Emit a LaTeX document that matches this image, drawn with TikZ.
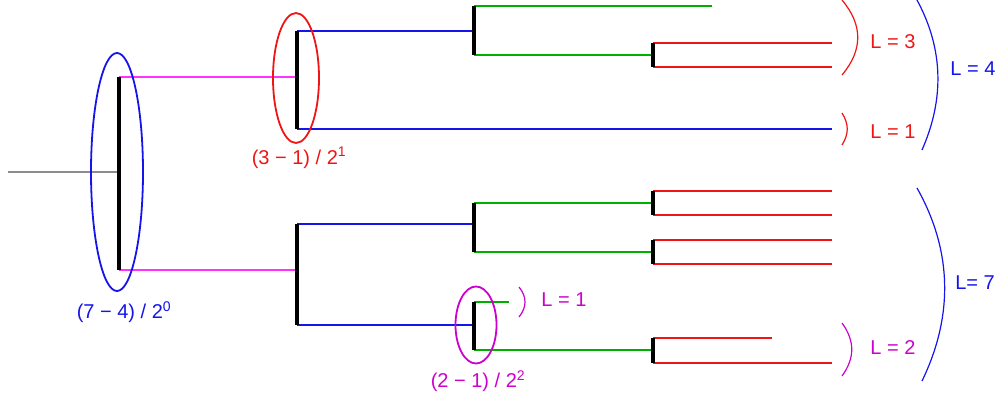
\documentclass[tikz,border=0pt]{standalone}
\usepackage{fontspec}
\setmainfont{Liberation Sans}
\usetikzlibrary{shapes.geometric}
\definecolor{treered}{RGB}{240,20,20}
\definecolor{treeblue}{RGB}{20,20,235}
\definecolor{treegreen}{RGB}{0,175,0}
\definecolor{treepink}{RGB}{255,50,255}
\definecolor{treemag}{RGB}{205,0,205}
\definecolor{treegray}{RGB}{140,140,140}
\tikzset{
  bar/.style={line width=4pt, draw=black},
  branch/.style={line width=1.3pt},
  group/.style={draw, ellipse, line width=1.8pt, inner sep=0pt},
  brace/.style={line width=1.2pt},
  lab/.style={font=\fontsize{20}{24}\selectfont, inner sep=0pt}
}

\begin{document}
\begin{tikzpicture}[x=1pt, y=-1pt]
  \useasboundingbox (0,0) rectangle (1002,401);

  % junctions
  \coordinate (in) at (8,172);
  \coordinate (r) at (119,172);
  \coordinate (r1) at (119,77);   \coordinate (r2) at (119,270);
  \coordinate (a) at (297,77);    \coordinate (d) at (297,270);
  \coordinate (a1) at (297,31);   \coordinate (a2) at (297,129);
  \coordinate (b) at (474,31);
  \coordinate (b1) at (474,6);    \coordinate (b2) at (474,55);
  \coordinate (c) at (653,55);
  \coordinate (c1) at (653,43);   \coordinate (c2) at (653,67);
  \coordinate (d1) at (297,224);  \coordinate (d2) at (297,325);
  \coordinate (e) at (474,224);   \coordinate (h) at (474,325);
  \coordinate (e1) at (474,203);  \coordinate (e2) at (474,252);
  \coordinate (f) at (653,203);   \coordinate (g) at (653,252);
  \coordinate (f1) at (653,191);  \coordinate (f2) at (653,215);
  \coordinate (g1) at (653,240);  \coordinate (g2) at (653,264);
  \coordinate (h1) at (474,302);  \coordinate (h2) at (474,350);
  \coordinate (i) at (653,350);
  \coordinate (i1) at (653,338);  \coordinate (i2) at (653,363);

  % leaves
  \coordinate (lb1) at (712,6);
  \coordinate (lc1) at (832,43);  \coordinate (lc2) at (832,67);
  \coordinate (la2) at (832,129);
  \coordinate (lf1) at (832,191); \coordinate (lf2) at (832,215);
  \coordinate (lg1) at (832,240); \coordinate (lg2) at (832,264);
  \coordinate (lh1) at (509,302);
  \coordinate (li1) at (772,338); \coordinate (li2) at (832,363);

  % branches
  \draw[branch, treegray] (in) -- (r);
  \draw[branch, treepink] (r1) -- (a) (r2) -- (d);
  \draw[branch, treeblue] (a1) -- (b) (a2) -- (la2)
                          (d1) -- (e) (d2) -- (h);
  \draw[branch, treegreen] (b1) -- (lb1) (b2) -- (c)
                           (e1) -- (f) (e2) -- (g)
                           (h1) -- (lh1) (h2) -- (i);
  \draw[branch, treered] (c1) -- (lc1) (c2) -- (lc2)
                         (f1) -- (lf1) (f2) -- (lf2)
                         (g1) -- (lg1) (g2) -- (lg2)
                         (i1) -- (li1) (i2) -- (li2);

  % bars
  \draw[bar] (r1) -- (r2);
  \draw[bar] (a1) -- (a2);
  \draw[bar] (b1) -- (b2);
  \draw[bar] (c1) -- (c2);
  \draw[bar] (d1) -- (d2);
  \draw[bar] (e1) -- (e2);
  \draw[bar] (f1) -- (f2);
  \draw[bar] (g1) -- (g2);
  \draw[bar] (h1) -- (h2);
  \draw[bar] (i1) -- (i2);

  % groups
  \node[group, treeblue, minimum width=52pt, minimum height=238pt] (grpr) at (117,172) {};
  \node[group, treered, minimum width=46pt, minimum height=130pt] (grpa) at (296,78) {};
  \node[group, treemag, minimum width=41pt, minimum height=77pt] (grph) at (476,325) {};

  \node[lab, treeblue] (costr) at (124,312) {(7 − 4) / 2\textsuperscript{0}};
  \node[lab, treered] (costa) at (299,158) {(3 − 1) / 2\textsuperscript{1}};
  \node[lab, treemag] (costh) at (478,381) {(2 − 1) / 2\textsuperscript{2}};

  % leaf counts
  \draw[brace, treered] (842,0) .. controls (863,25) and (863,50) .. (842,75);
  \draw[brace, treered] (842,113) .. controls (849,124) and (849,134) .. (842,145);
  \draw[brace, treeblue] (917,0) .. controls (944,50) and (944,100) .. (922,150);
  \draw[brace, treemag] (519,287) .. controls (527,297) and (527,307) .. (519,317);
  \draw[brace, treemag] (842,323) .. controls (855,341) and (855,358) .. (842,376);
  \draw[brace, treeblue] (917,188) .. controls (953,252) and (953,317) .. (922,381);

  \node[lab, treered] (lenc) at (893,42) {L = 3};
  \node[lab, treered] (lena) at (893,132) {L = 1};
  \node[lab, treeblue] (lenb) at (973,69) {L = 4};
  \node[lab, treemag] (lenh) at (564,300) {L = 1};
  \node[lab, treemag] (leni) at (893,348) {L = 2};
  \node[lab, treeblue] (lene) at (975,283) {L= 7};
\end{tikzpicture}
\end{document}
